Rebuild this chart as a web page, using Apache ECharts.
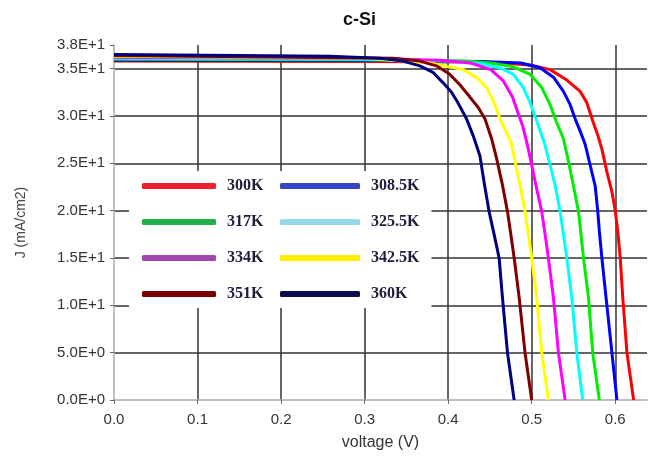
<!DOCTYPE html>
<html>
<head>
<meta charset="utf-8">
<script src="https://cdn.jsdelivr.net/npm/echarts@6/dist/echarts.min.js"></script>
<style>
  html, body { margin: 0; padding: 0; background: #fff; }
  #chart { width: 652px; height: 456px; }
</style>
</head>
<body>
<div id="chart"></div>
<script>
// J-V points [voltage (V), J (mA/cm2)]
const jv300 = [[0,35.8],[0.30,35.75],[0.42,35.7],[0.466,35.6],[0.498,35.4],[0.522,34.9],[0.542,33.8],[0.558,32.6],[0.566,31.4],[0.573,29.5],[0.579,28.0],[0.584,26.5],[0.590,24.1],[0.596,22.0],[0.600,20.0],[0.603,17.8],[0.606,15.0],[0.609,10.8],[0.614,5.0],[0.622,0]];
const jv308 = [[0,35.9],[0.30,35.85],[0.44,35.75],[0.487,35.6],[0.510,35.1],[0.526,34.1],[0.538,32.6],[0.546,31.2],[0.552,29.7],[0.558,28.4],[0.564,27.0],[0.570,24.8],[0.576,22.6],[0.579,20.0],[0.581,17.8],[0.584,15.0],[0.589,10.8],[0.596,5.0],[0.602,0]];
const jv317 = [[0,36.0],[0.30,35.95],[0.42,35.8],[0.451,35.6],[0.478,35.2],[0.498,34.4],[0.512,33.0],[0.522,31.2],[0.529,29.5],[0.538,27.6],[0.544,25.2],[0.550,22.6],[0.556,19.9],[0.559,17.5],[0.562,15.0],[0.568,10.8],[0.573,5.0],[0.581,0]];
const jv325 = [[0,36.1],[0.30,36.0],[0.40,35.8],[0.442,35.5],[0.464,35.0],[0.478,34.4],[0.490,33.0],[0.498,31.4],[0.506,29.5],[0.516,26.9],[0.522,24.8],[0.528,22.7],[0.534,19.9],[0.538,17.5],[0.542,15.0],[0.548,10.8],[0.554,5.0],[0.561,0]];
const jv334 = [[0,36.2],[0.30,36.1],[0.39,35.9],[0.427,35.6],[0.451,34.9],[0.466,33.7],[0.477,32.0],[0.484,30.2],[0.489,29.0],[0.495,26.9],[0.500,24.8],[0.506,22.3],[0.512,19.9],[0.516,17.5],[0.520,15.0],[0.526,10.8],[0.532,5.0],[0.540,0]];
const jv342 = [[0,36.3],[0.30,36.1],[0.378,35.6],[0.418,34.9],[0.435,34.0],[0.446,33.0],[0.454,31.6],[0.463,29.5],[0.470,28.2],[0.475,27.3],[0.481,24.8],[0.487,22.3],[0.492,19.9],[0.496,17.5],[0.500,15.0],[0.506,10.8],[0.512,5.0],[0.520,0]];
const jv351 = [[0,36.4],[0.334,36.1],[0.366,35.8],[0.386,35.3],[0.402,34.4],[0.414,33.3],[0.426,32.0],[0.436,30.9],[0.444,29.7],[0.452,27.6],[0.458,25.5],[0.465,22.7],[0.471,19.9],[0.475,17.5],[0.479,15.0],[0.485,10.8],[0.492,5.0],[0.500,0]];
const jv360 = [[0,36.5],[0.258,36.3],[0.318,36.1],[0.346,35.8],[0.366,35.3],[0.382,34.6],[0.394,33.5],[0.404,32.5],[0.411,31.5],[0.422,29.7],[0.430,27.9],[0.438,25.8],[0.443,23.0],[0.449,19.9],[0.455,17.5],[0.461,15.0],[0.465,10.8],[0.471,5.0],[0.479,0]];

const names = ['300K', '308.5K', '317K', '325.5K', '334K', '342.5K', '351K', '360K'];
const curves = [jv300, jv308, jv317, jv325, jv334, jv342, jv351, jv360];
const lineColors = ['#ff0000', '#0000ff', '#00ee00', '#00ffff', '#ff00ff', '#ffff00', '#800000', '#000080'];
// the legend swatches use softer colours than the curves
const legendColors = ['#ee2030', '#3546c8', '#20b048', '#96d8e8', '#a048b0', '#ffee00', '#780000', '#0c0c50'];

const chart = echarts.init(document.getElementById('chart'));

const legendText = {
  fontFamily: 'Liberation Serif',
  fontWeight: 'bold',
  fontSize: 16,
  color: '#1e1e3c',
  lineHeight: 16,
  padding: [0, 0, 0, 6]
};

function legendItems(idx) {
  return idx.map(i => ({ name: names[i], itemStyle: { color: legendColors[i] } }));
}

const option = {
  animation: false,
  title: {
    text: 'c-Si',
    left: 338,
    top: 6,
    textStyle: { fontFamily: 'Liberation Sans', fontWeight: 'bold', fontSize: 18, color: '#111' }
  },
  legend: [
    {
      orient: 'vertical',
      left: 129,
      top: 171,
      padding: [7, 8, 6, 13],
      backgroundColor: '#fff',
      itemWidth: 74,
      itemHeight: 6,
      itemGap: 20,
      icon: 'roundRect',
      selectedMode: false,
      textStyle: legendText,
      data: legendItems([0, 2, 4, 6])
    },
    {
      orient: 'vertical',
      left: 268,
      top: 171,
      padding: [7, 12, 6, 12],
      backgroundColor: '#fff',
      itemWidth: 80,
      itemHeight: 6,
      itemGap: 20,
      icon: 'roundRect',
      selectedMode: false,
      textStyle: legendText,
      data: legendItems([1, 3, 5, 7])
    }
  ],
  grid: { left: 114, right: 5, top: 45, bottom: 53 },
  xAxis: {
    type: 'value',
    min: 0,
    max: 0.638,
    interval: 0.1,
    name: 'voltage (V)',
    nameLocation: 'middle',
    nameGap: 35,
    nameTextStyle: { fontFamily: 'Liberation Sans', fontSize: 16, color: '#333' },
    axisLine: { show: true, lineStyle: { color: '#aaa', width: 1.5 } },
    axisTick: { show: true, length: 4, lineStyle: { color: '#666' } },
    axisLabel: {
      margin: 12,
      fontFamily: 'Liberation Sans',
      fontSize: 15,
      color: '#333',
      showMaxLabel: false,
      formatter: v => v.toFixed(1)
    },
    splitLine: { show: true, showMinLine: false, showMaxLine: false, lineStyle: { color: '#333', width: 1.5 } }
  },
  yAxis: {
    type: 'value',
    min: 0,
    max: 37.5,
    interval: 5,
    name: 'J (mA/cm2)',
    nameLocation: 'middle',
    nameGap: 86,
    nameTextStyle: { fontFamily: 'Liberation Sans', fontSize: 14, color: '#444' },
    axisLine: { show: true, lineStyle: { color: '#aaa', width: 1.5 } },
    axisTick: { show: true, length: 4, lineStyle: { color: '#666' } },
    axisLabel: {
      margin: 9,
      fontFamily: 'Liberation Sans',
      fontSize: 15,
      color: '#333',
      formatter: v => v.toExponential(1).toUpperCase()
    },
    splitLine: { show: true, showMinLine: false, showMaxLine: false, lineStyle: { color: '#333', width: 1.5 } }
  },
  series: curves.map((d, i) => ({
    name: names[i],
    type: 'line',
    data: d,
    showSymbol: false,
    smooth: false,
    lineStyle: { color: lineColors[i], width: 3 },
    itemStyle: { color: lineColors[i] }
  }))
};

chart.setOption(option);
</script>
</body>
</html>
